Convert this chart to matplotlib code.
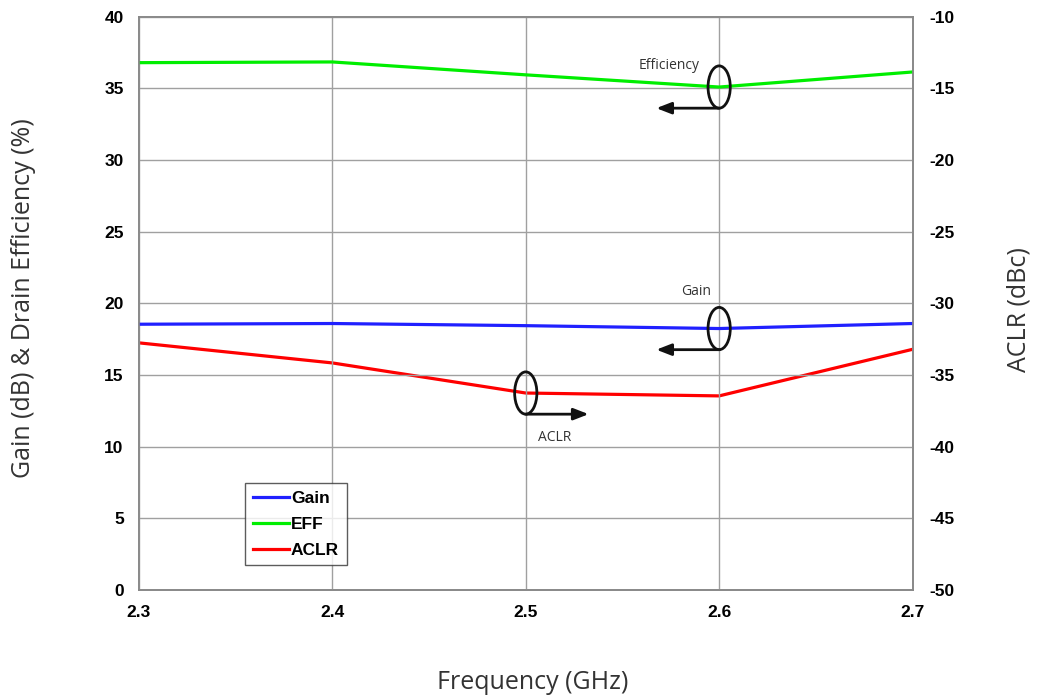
import matplotlib.pyplot as plt
from matplotlib.patches import Ellipse

plt.rcParams['axes.unicode_minus'] = False

# Data
freq = [2.3, 2.4, 2.5, 2.6, 2.7]
gain = [18.55, 18.6, 18.45, 18.25, 18.6]
eff = [36.8, 36.85, 35.95, 35.1, 36.15]
aclr = [-32.75, -34.15, -36.25, -36.45, -33.2]

tick_font = {'family': 'Liberation Sans', 'weight': 'bold', 'size': 12.5}
label_font = {'family': 'Open Sans', 'size': 18, 'color': '#333333'}

fig = plt.figure(figsize=(10.37, 7.0), dpi=100)
ax = fig.add_axes([0.134, 0.157, 0.746, 0.819])
ax2 = ax.twinx()

ax.plot(freq, gain, color='#2020ff', lw=2.3, label='Gain')
ax.plot(freq, eff, color='#00ee00', lw=2.3, label='EFF')
l3, = ax2.plot(freq, aclr, color='#ff0000', lw=2.3, label='ACLR')

ax.set_xlim(2.3, 2.7)
ax.set_ylim(0, 40)
ax2.set_ylim(-50, -10)
ax.set_xticks(freq)
ax.set_yticks(range(0, 41, 5))
ax2.set_yticks(range(-50, -9, 5))
ax.grid(True, color='#a0a0a0', lw=1.0)
ax.tick_params(length=0)
ax2.tick_params(length=0)
ax.tick_params(axis='y', pad=11)
ax.tick_params(axis='x', pad=11)
ax2.tick_params(axis='y', pad=12)
for lab in ax.get_xticklabels() + ax.get_yticklabels() + ax2.get_yticklabels():
    lab.set(**tick_font)
for a in (ax, ax2):
    for s in a.spines.values():
        s.set_color('#888888')
        s.set_linewidth(1.2)

ax.set_xlabel('Frequency (GHz)', va='center', **label_font)
ax.xaxis.set_label_coords(0.509, -0.162)
ax.set_ylabel('Gain (dB) & Drain Efficiency (%)', va='center', **label_font)
ax.yaxis.set_label_coords(-0.149, 0.51)
ax2.set_ylabel('ACLR (dBc)', va='center', **label_font)
ax2.yaxis.set_label_coords(1.138, 0.49)

# Callout ellipses with arrows pointing to the relevant axis
ew, eh = 0.0115, 2.95


def callout(x, y, direction, text, tx, ty):
    ax.add_patch(Ellipse((x, y), ew, eh, fill=False, ec='#111111', lw=2, zorder=5))
    yb = y - eh / 2
    ax.annotate('', xy=(x + direction * 0.0325, yb), xytext=(x, yb),
                arrowprops=dict(arrowstyle='-|>,head_length=0.9,head_width=0.35',
                                color='#111111', lw=2, shrinkA=0, shrinkB=0), zorder=5)
    ax.text(tx, ty, text, fontsize=10, family='Open Sans', color='#333333',
            ha='center', va='center')


callout(freq[3], eff[3], -1, 'Efficiency', 2.574, 36.6)
callout(freq[3], gain[3], -1, 'Gain', 2.588, 20.8)
callout(freq[2], aclr[2] + 50, 1, 'ACLR', 2.515, 10.65)

h1, lb1 = ax.get_legend_handles_labels()
leg = ax.legend(h1 + [l3], lb1 + ['ACLR'], loc='lower left',
                bbox_to_anchor=(0.137, 0.043), frameon=True, fancybox=False,
                prop={'family': 'Liberation Sans', 'weight': 'bold', 'size': 12.5},
                handlelength=2.1, handletextpad=0.1, borderpad=0.45,
                labelspacing=0.62, borderaxespad=0)
leg.get_frame().set_edgecolor('#333333')
leg.get_frame().set_linewidth(1.0)
leg.set_zorder(10)
ax.set_zorder(ax2.get_zorder() + 1)
ax.patch.set_visible(False)

fig.savefig('out.png', dpi=100)
